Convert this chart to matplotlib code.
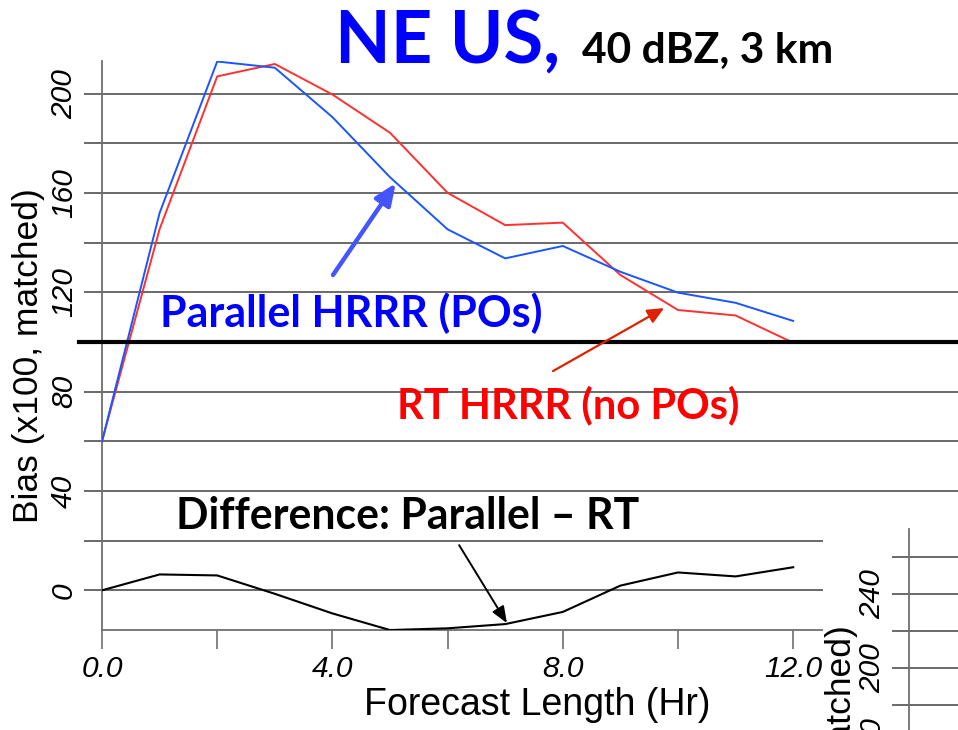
import matplotlib
matplotlib.use("Agg")
import matplotlib.pyplot as plt
from matplotlib.patches import Rectangle
from matplotlib.ticker import MultipleLocator, FixedLocator, NullFormatter

# ---- data ----
hours = [0, 1, 2, 3, 4, 5, 6, 7, 8, 9, 10, 11, 12]
parallel_hrrr = [60, 152, 213, 210.5, 190.6, 166.4, 145.4, 133.7, 138.7, 128.3, 119.9, 115.8, 108.5]
rt_hrrr = [60, 145.5, 207, 212, 199.7, 184.3, 160.1, 147.1, 148.1, 127.0, 112.9, 110.7, 99.7]
difference = [0, 6.4, 6.0, -1.4, -9.3, -16, -15.3, -13.6, -8.7, 1.9, 7.2, 5.6, 9.3]
x_tick_vals = [0, 4, 8, 12]
x_tick_labels = ["0.0", "4.0", "8.0", "12.0"]
y_tick_vals = [0, 40, 80, 120, 160, 200]
ref_bias = 100

W, H = 958, 730
fig = plt.figure(figsize=(W / 100, H / 100), dpi=100)
fig.patch.set_facecolor("white")

AX_FONT = "Liberation Sans"
BOLD_FONT = "Lato"
GRID_C = "#505050"
SPINE_C = "#707070"

# main axes
x0, x1, y_top, y_bot = 102, W, 61, 630.3
ax = fig.add_axes([x0 / W, (H - y_bot) / H, (x1 - x0) / W, (y_bot - y_top) / H])
ax.set_xlim(0, (x1 - x0) / 57.6)
ax.set_ylim(-16.1, 213.2)
ax.set_facecolor("none")

ax.plot(hours, rt_hrrr, color="#ff3030", lw=1.4, zorder=3)
ax.plot(hours, parallel_hrrr, color="#1a55ff", lw=1.4, zorder=3)
ax.plot(hours, difference, color="black", lw=1.5, zorder=3)

# reference line at bias 100
ax.plot([-0.027, 1.0], [ref_bias, ref_bias], transform=ax.get_yaxis_transform(),
        color="black", lw=3.0, clip_on=False, zorder=4)

for s in ["top", "right"]:
    ax.spines[s].set_visible(False)
for s in ["left", "bottom"]:
    ax.spines[s].set_color(SPINE_C)
    ax.spines[s].set_linewidth(1.3)

ax.yaxis.set_major_locator(FixedLocator(y_tick_vals))
ax.yaxis.set_minor_locator(MultipleLocator(20))
ax.set_yticklabels([str(v) for v in y_tick_vals])
ax.xaxis.set_major_locator(FixedLocator(x_tick_vals))
ax.xaxis.set_minor_locator(FixedLocator([2, 6, 10, 14]))
ax.set_xticklabels(x_tick_labels)
ax.yaxis.set_minor_formatter(NullFormatter())
ax.xaxis.set_minor_formatter(NullFormatter())

ax.grid(axis="y", which="both", color=GRID_C, lw=1.2, zorder=1)
ax.set_axisbelow(True)
ax.tick_params(axis="y", which="both", length=13, width=1.2, color=GRID_C, pad=4.3,
               labelrotation=90, labelsize=21.5)
ax.tick_params(axis="x", which="both", length=13.7, width=1.2, color=SPINE_C, pad=4.3,
               labelsize=21.5)
for lbl in ax.get_yticklabels():
    lbl.set_fontfamily(AX_FONT)
    lbl.set_fontstyle("italic")
    lbl.set_va("center")
for lbl in ax.get_xticklabels():
    lbl.set_fontfamily(AX_FONT)
    lbl.set_fontstyle("italic")

ax.set_ylabel("Bias (x100, matched)", fontsize=25.5, fontfamily=AX_FONT)
ax.yaxis.set_label_coords(-0.067, (H - 356 - (H - y_bot)) / (y_bot - y_top))
ax.set_xlabel("Forecast Length (Hr)", fontsize=27, fontfamily=AX_FONT)
ax.xaxis.set_label_coords(0.508, -0.1)

# annotations
ax.text(1.01, 106, "Parallel HRRR (POs)", color="#0000ff", fontsize=31,
        fontweight="bold", fontfamily=BOLD_FONT, va="baseline", ha="left", zorder=5)
ax.text(5.12, 69.4, "RT HRRR (no POs)", color="#ff0000", fontsize=30,
        fontweight="bold", fontfamily=BOLD_FONT, va="baseline", ha="left", zorder=5)
ax.text(1.28, 24.7, "Difference: Parallel \u2013 RT", color="black", fontsize=30.8,
        fontweight="bold", fontfamily=BOLD_FONT, va="baseline", ha="left", zorder=5)

ax.annotate("", xy=(5.10, 164.0), xytext=(4.01, 127.0),
            arrowprops=dict(arrowstyle="-|>,head_length=1.3,head_width=0.55",
                            color="#4455ff", lw=3.2, shrinkA=0, shrinkB=0), zorder=5)
ax.annotate("", xy=(9.76, 113.7), xytext=(7.83, 88.3),
            arrowprops=dict(arrowstyle="-|>,head_length=1.0,head_width=0.45",
                            color="#dd2200", lw=1.6, shrinkA=0, shrinkB=0), zorder=5)
ax.annotate("", xy=(7.03, -13.2), xytext=(6.20, 18.2),
            arrowprops=dict(arrowstyle="-|>,head_length=1.0,head_width=0.4",
                            color="black", lw=1.4, shrinkA=0, shrinkB=0), zorder=5)

# title
fig.text(335 / W, 1 - 63 / H, "NE US,", color="#0000ff", fontsize=52, fontweight="bold",
         fontfamily=BOLD_FONT, va="baseline", ha="left")
fig.text(582 / W, 1 - 63 / H, "40 dBZ, 3 km", color="black", fontsize=30.6, fontweight="bold",
         fontfamily=BOLD_FONT, va="baseline", ha="left")

# white cover + partial second chart at bottom right
fig.patches.append(Rectangle((823 / W, 0), (W - 823) / W, (H - 520) / H,
                             transform=fig.transFigure, facecolor="white",
                             edgecolor="none", zorder=1))
ax2 = fig.add_axes([909 / W, (H - 1089) / H, 200 / W, 560 / H], zorder=2)
ax2.set_facecolor("none")
ax2.set_ylim(-27.6, 275.1)
ax2.set_xlim(0, 1)
for s in ["top", "right", "bottom"]:
    ax2.spines[s].set_visible(False)
ax2.spines["left"].set_color(SPINE_C)
ax2.spines["left"].set_linewidth(1.3)
ax2.yaxis.set_major_locator(MultipleLocator(40))
ax2.yaxis.set_minor_locator(MultipleLocator(20))
ax2.yaxis.set_minor_formatter(NullFormatter())
ax2.set_xticks([])
ax2.grid(axis="y", which="both", color=GRID_C, lw=1.2)
ax2.tick_params(axis="y", which="both", length=12.2, width=1.2, color=GRID_C, pad=4.3,
                labelrotation=90, labelsize=21.5)
for lbl in ax2.get_yticklabels():
    lbl.set_fontfamily(AX_FONT)
    lbl.set_fontstyle("italic")
    lbl.set_va("center")
ax2.set_ylabel("Bias (x100, matched)", fontsize=25.5, fontfamily=AX_FONT)
ax2.yaxis.set_label_coords(-0.255, 0.53)

fig.savefig("out.png", dpi=100, facecolor="white")
